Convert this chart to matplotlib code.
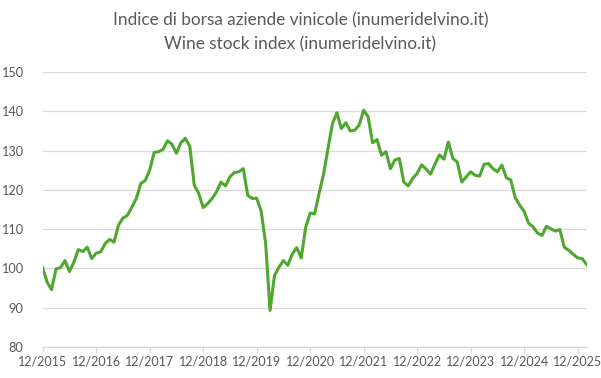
import matplotlib.pyplot as plt

# Monthly index values, 12/2015 .. 02/2026
index_values = [
    100.2, 96.5, 94.6, 99.9, 100.2, 102.0, 99.2, 101.6, 104.8, 104.3, 105.4, 102.5,
    103.9, 104.2, 106.3, 107.4, 106.7, 111.0, 112.8, 113.5, 115.6, 117.8, 121.6, 122.4,
    125.0, 129.5, 129.7, 130.3, 132.5, 131.6, 129.3, 132.0, 133.1, 131.1, 121.2, 119.1,
    115.5, 116.5, 117.8, 119.5, 122.0, 121.0, 123.3, 124.4, 124.6, 125.4, 118.6, 117.8,
    117.9, 114.6, 106.5, 89.3, 98.2, 100.3, 102.0, 100.8, 103.7, 105.3, 102.7, 110.5,
    114.1, 113.9, 119.1, 124.0, 130.5, 136.9, 139.6, 135.6, 137.1, 135.0, 135.2, 136.5,
    140.3, 138.6, 132.0, 132.8, 128.8, 129.7, 125.4, 127.6, 128.0, 122.0, 121.0, 122.9,
    124.2, 126.4, 125.3, 124.0, 126.6, 128.9, 127.8, 132.2, 128.0, 127.1, 122.0, 123.3,
    124.6, 123.7, 123.5, 126.5, 126.7, 125.4, 124.6, 126.3, 123.1, 122.5, 118.0, 116.1,
    114.5, 111.5, 110.6, 109.0, 108.4, 110.7, 110.1, 109.5, 109.9, 105.4, 104.6, 103.6,
    102.7, 102.5, 101.0,
]
tick_labels = ["12/2015", "12/2016", "12/2017", "12/2018", "12/2019", "12/2020",
               "12/2021", "12/2022", "12/2023", "12/2024", "12/2025"]
y_ticks = [80, 90, 100, 110, 120, 130, 140, 150]

plt.rcParams['font.family'] = ['Lato', 'DejaVu Sans']
text_color = "#595959"

fig = plt.figure(figsize=(6.01, 3.78), dpi=100)
ax = fig.add_axes([0.071, 0.082, 0.905, 0.7275])

x = list(range(len(index_values)))
ax.plot(x, index_values, color="#4ea72e", linewidth=2.2, solid_joinstyle="round")

ax.set_xlim(0, len(index_values) - 1)
ax.set_ylim(80, 150)
ax.set_yticks(y_ticks)
ax.set_xticks([i * 12 for i in range(len(tick_labels))])
ax.set_xticklabels(tick_labels)

ax.grid(axis="y", color="#d9d9d9", linewidth=0.9)
ax.set_axisbelow(True)
for side in ["top", "right", "left"]:
    ax.spines[side].set_visible(False)
ax.spines["bottom"].set_color("#d9d9d9")
ax.spines["bottom"].set_linewidth(0.9)

ax.tick_params(axis="y", length=0, pad=14, labelsize=9.2, labelcolor=text_color)
ax.tick_params(axis="x", length=4, width=0.9, color="#d9d9d9", pad=2,
               labelsize=9, labelcolor=text_color)

fig.text(0.5, 0.945, "Indice di borsa aziende vinicole (inumeridelvino.it)",
         ha="center", va="center", fontsize=12.4, color=text_color)
fig.text(0.5, 0.882, "Wine stock index (inumeridelvino.it)",
         ha="center", va="center", fontsize=12.4, color=text_color)

fig.savefig("out.png", dpi=100)
